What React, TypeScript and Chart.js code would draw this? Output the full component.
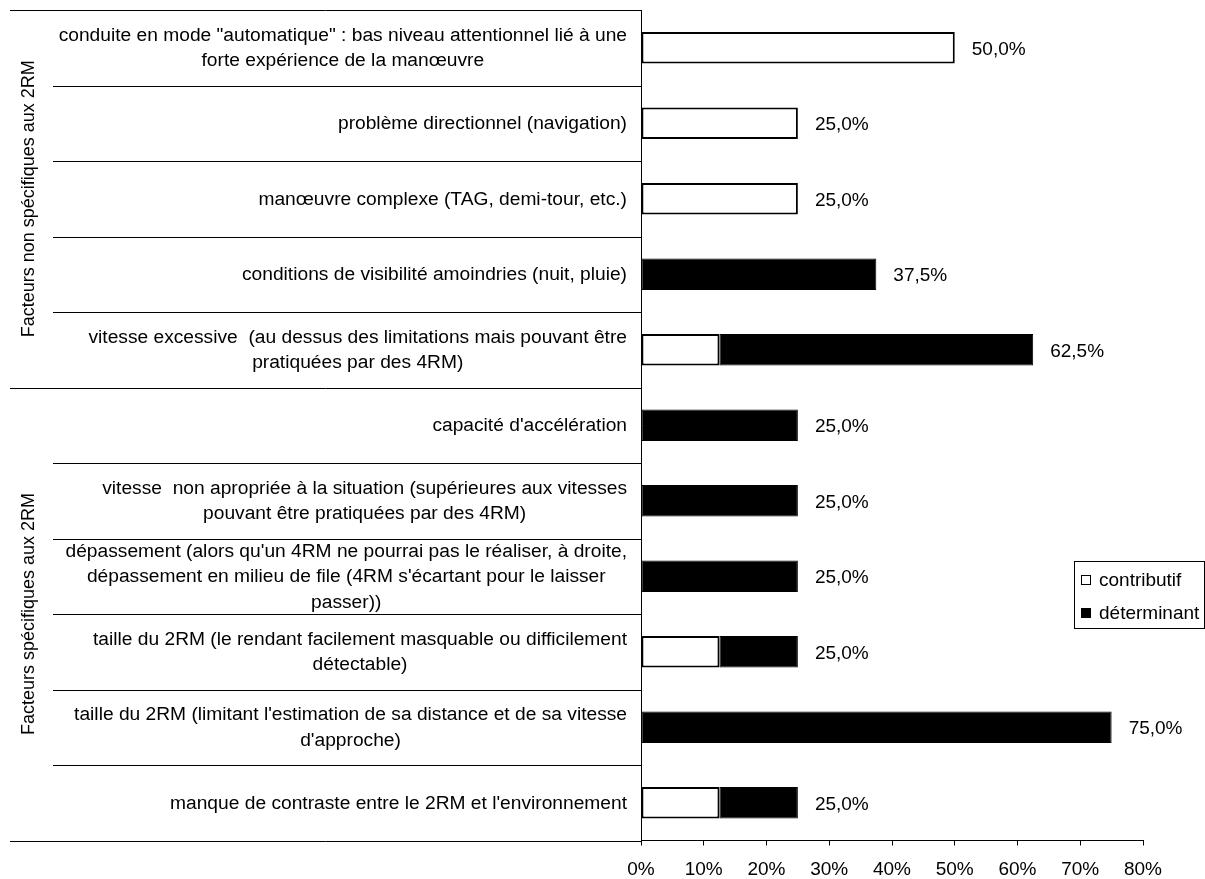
import React, { useEffect, useRef } from "react";
import { Chart, registerables } from "chart.js";

Chart.register(...registerables);

const categories: string[][] = [
  ['conduite en mode "automatique" : bas niveau attentionnel lié à une', "forte expérience de la manœuvre"],
  ["problème directionnel (navigation)"],
  ["manœuvre complexe (TAG, demi-tour, etc.)"],
  ["conditions de visibilité amoindries (nuit, pluie)"],
  ["vitesse excessive  (au dessus des limitations mais pouvant être", "pratiquées par des 4RM)"],
  ["capacité d'accélération"],
  ["vitesse  non apropriée à la situation (supérieures aux vitesses", "pouvant être pratiquées par des 4RM)"],
  ["dépassement (alors qu'un 4RM ne pourrai pas le réaliser, à droite,", "dépassement en milieu de file (4RM s'écartant pour le laisser", "passer))"],
  ["taille du 2RM (le rendant facilement masquable ou difficilement", "détectable)"],
  ["taille du 2RM (limitant l'estimation de sa distance et de sa vitesse", "d'approche)"],
  ["manque de contraste entre le 2RM et l'environnement"],
];

const contributif: (number | null)[] = [50, 25, 25, null, 12.5, null, null, null, 12.5, null, 12.5];
const determinant: (number | null)[] = [null, null, null, 37.5, 50, 25, 25, 25, 12.5, 75, 12.5];

const seriesNames = ["contributif", "déterminant"];

const groupLabels = ["Facteurs non spécifiques aux 2RM", "Facteurs spécifiques aux 2RM"];
const groupStarts = [0, 5];
const groupEnds = [5, 11];

const xMin = 0;
const xMax = 80;
const xStep = 10;

const FONT = "Liberation Sans, Arial, sans-serif";
const FS = 19;

const fmt = (v: number) => v.toFixed(1).replace(".", ",") + "%";

const overlayPlugin = {
  id: "overlay",
  afterDraw(chart: any) {
    const ctx: CanvasRenderingContext2D = chart.ctx;
    const area = chart.chartArea;
    const xs = chart.scales.x;
    const n = categories.length;
    const catH = (area.bottom - area.top) / n;
    const boundaries = new Set<number>([0, ...groupEnds]);
    ctx.save();
    ctx.strokeStyle = "#000";
    ctx.lineWidth = 1;
    // vertical axis
    ctx.beginPath();
    ctx.moveTo(Math.round(area.left) + 0.5, area.top);
    ctx.lineTo(Math.round(area.left) + 0.5, area.bottom);
    ctx.stroke();
    // separators
    for (let k = 0; k <= n; k++) {
      const y = Math.round(area.top + k * catH) + 0.5;
      const x0 = boundaries.has(k) ? 10 : 53;
      ctx.beginPath();
      ctx.moveTo(x0, y);
      ctx.lineTo(area.left, y);
      ctx.stroke();
    }
    // category labels
    ctx.fillStyle = "#000";
    ctx.font = `19.2px ${FONT}`;
    ctx.textBaseline = "middle";
    ctx.textAlign = "center";
    const rightEdge = 627;
    const lh = 25.5;
    categories.forEach((lines, i) => {
      const cy = area.top + (i + 0.5) * catH;
      const w = Math.max(...lines.map((l) => ctx.measureText(l).width));
      const cx = rightEdge - w / 2;
      lines.forEach((l, j) => {
        ctx.fillText(l, cx, cy + (j - (lines.length - 1) / 2) * lh + 0.5);
      });
    });
    // group labels
    ctx.font = `18px ${FONT}`;
    groupLabels.forEach((g, gi) => {
      const y0 = area.top + groupStarts[gi] * catH;
      const y1 = area.top + groupEnds[gi] * catH;
      ctx.save();
      ctx.translate(29, (y0 + y1) / 2);
      ctx.rotate(-Math.PI / 2);
      ctx.textAlign = "center";
      ctx.textBaseline = "middle";
      ctx.fillText(g, 0, 0);
      ctx.restore();
    });
    // data labels
    ctx.font = `${FS}px ${FONT}`;
    ctx.textAlign = "left";
    categories.forEach((_, i) => {
      const total = (contributif[i] ?? 0) + (determinant[i] ?? 0);
      const cy = area.top + (i + 0.5) * catH;
      ctx.fillText(fmt(total), xs.getPixelForValue(total) + 17, cy + 2);
    });
    // legend
    const lx = 1074, ly = 561, lw = 130, lhgt = 67;
    ctx.fillStyle = "#fff";
    ctx.fillRect(lx, ly, lw, lhgt);
    ctx.strokeRect(lx + 0.5, ly + 0.5, lw, lhgt);
    const items = [
      { name: seriesNames[0], fill: "#fff" },
      { name: seriesNames[1], fill: "#000" },
    ];
    items.forEach((it, k) => {
      const cy = 580 + k * 33;
      ctx.fillStyle = it.fill;
      ctx.fillRect(1081, cy - 5, 10, 10);
      ctx.strokeRect(1081.5, cy - 4.5, 9, 9);
      ctx.fillStyle = "#000";
      ctx.textBaseline = "middle";
      ctx.fillText(it.name, 1099, cy + 1);
    });
    ctx.restore();
  },
};

export default function App() {
  const ref = useRef<HTMLCanvasElement | null>(null);
  useEffect(() => {
    if (!ref.current) return;
    const chart = new Chart(ref.current, {
      type: "bar",
      data: {
        labels: categories.map((c) => c.join(" ")),
        datasets: [
          {
            label: seriesNames[0],
            data: contributif,
            backgroundColor: "#fff",
            borderColor: "#000",
            borderWidth: 2,
            borderSkipped: false,
            barPercentage: 0.42,
            categoryPercentage: 1,
          },
          {
            label: seriesNames[1],
            data: determinant,
            backgroundColor: "#000",
            borderColor: "#000",
            borderWidth: 1,
            borderSkipped: false,
            barPercentage: 0.42,
            categoryPercentage: 1,
          },
        ],
      },
      options: {
        indexAxis: "y",
        responsive: false,
        animation: false,
        layout: { padding: { left: 641, top: 10, right: 62, bottom: 0 } },
        scales: {
          x: {
            stacked: true,
            min: xMin,
            max: xMax,
            ticks: {
              stepSize: xStep,
              callback: (v: any) => v + "%",
              color: "#000",
              font: { family: FONT, size: FS },
              padding: 13,
              maxRotation: 0,
              autoSkip: false,
            },
            grid: { drawOnChartArea: false, drawTicks: true, tickLength: 5, color: "#000", lineWidth: 1 },
            border: { display: true, color: "#000", width: 1 },
            afterFit: (s: any) => {
              s.height = 38.5;
            },
          },
          y: { stacked: true, display: false },
        },
        plugins: { legend: { display: false }, tooltip: { enabled: false } },
      },
      plugins: [overlayPlugin],
    } as any);
    return () => chart.destroy();
  }, []);
  return (
    <div style={{ position: "absolute", left: 0, top: 0, width: 1205, height: 879, background: "#fff" }}>
      <canvas ref={ref} width={1205} height={879} style={{ display: "block" }} />
    </div>
  );
}
